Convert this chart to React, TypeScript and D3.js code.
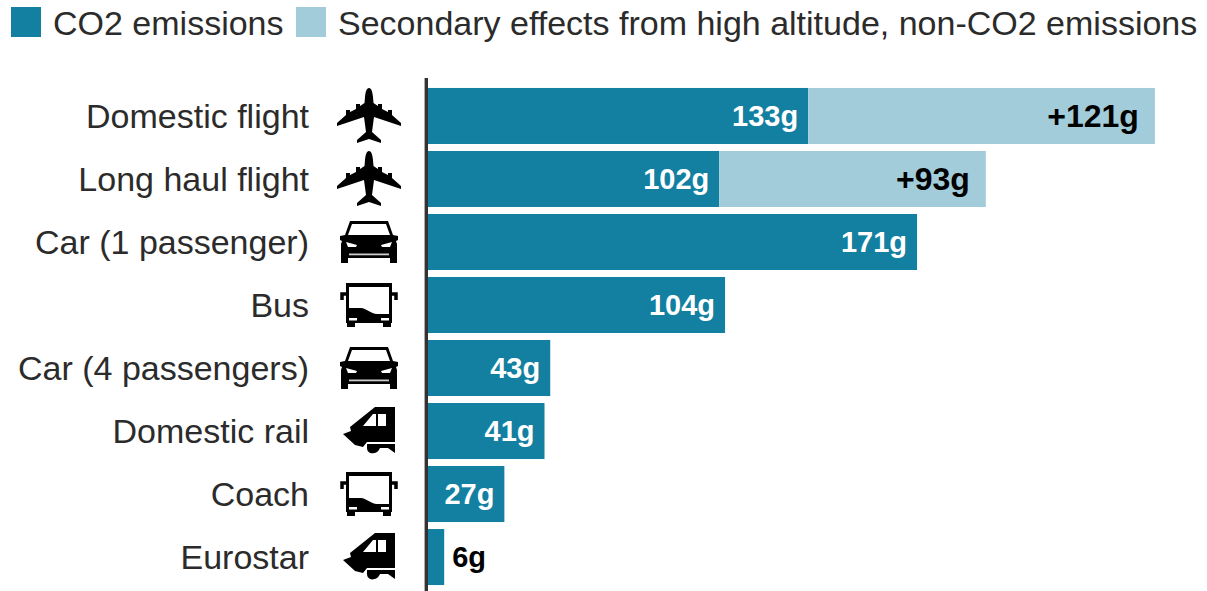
import React from "react";
import * as d3 from "d3";

const categories = ["Domestic flight", "Long haul flight", "Car (1 passenger)", "Bus", "Car (4 passengers)", "Domestic rail", "Coach", "Eurostar"];
const co2Values = [133, 102, 171, 104, 43, 41, 27, 6];
const secondaryValues = [121, 93, 0, 0, 0, 0, 0, 0];
const icons = ["plane", "plane", "car", "bus", "car", "train", "coach", "train"];
const legendLabels = ["CO2 emissions", "Secondary effects from high altitude, non-CO2 emissions"];

const WIDTH = 1207;
const HEIGHT = 591;
const DARK = "#1380a1";
const LIGHT = "#a2ccda";
const TEXT = "#2b2b2b";
const FONT = "'Liberation Sans', Arial, sans-serif";

const x = d3.scaleLinear().domain([0, 254]).range([427, 1154.9]);
const y = d3.scaleBand<string>().domain(categories).range([84.5, 588.5]).paddingInner(0.111).paddingOuter(0.055);

// icons are drawn in a box centred on 0,0
function Plane() {
  return (
    <path
      fill="#000"
      d="M0,-28 C2.5,-28 3.5,-24 4,-19 L4.5,-13 L9,-10 L9,-12 L13,-12 L13,-7 L19,-4 L19,-6 L23,-6 L23,-1 L32,7 L32,10 L5,1 L3,16 L12,24 L12,27 L0,23 L-12,27 L-12,24 L-3,16 L-5,1 L-32,10 L-32,7 L-23,-1 L-23,-6 L-19,-6 L-19,-4 L-13,-7 L-13,-12 L-9,-12 L-9,-10 L-4.5,-13 L-4,-19 C-3.5,-24 -2.5,-28 0,-28 Z"
    />
  );
}

function Car() {
  return (
    <g>
      <path
        fill="#000"
        fillRule="evenodd"
        d="M-19,-21 L19,-21 L24,-7 L29,-6 L29,-2 L27,-1 L28,2 L28,21 L21,21 L21,16 L-21,16 L-21,21 L-28,21 L-28,2 L-27,-1 L-29,-2 L-29,-6 L-24,-7 Z M-17,-18 L-21,-7 L21,-7 L17,-18 Z"
      />
      <path fill="#fff" d="M-23,0 L-12,3 L-13,5 L-21,5 Z M23,0 L12,3 L13,5 L21,5 Z" />
      <rect x={-20} y={11.5} width={40} height={1.8} fill="#ccc" />
    </g>
  );
}

function Bus({ top, bottom }: { top: number; bottom: number }) {
  return (
    <g>
      <path
        fill="#000"
        fillRule="evenodd"
        d={`M-23,${top} L23,${top} L23,18 L22,18 L22,22 L14,22 L14,18 L-14,18 L-14,22 L-22,22 L-22,18 L-23,18 Z M-20,${top + 4} L-20,${bottom} L-8,${bottom} C-3,${bottom} 2,${bottom + 6} 8,${bottom + 6} L20,${bottom + 6} L20,${top + 4} Z`}
      />
      <path fill="none" stroke="#000" strokeWidth={3.5} d="M-23,-11 L-27,-11 L-27,-5 M23,-11 L27,-11 L27,-5" />
      <rect x={-20} y={13} width={8} height={2.5} fill="#fff" />
      <rect x={12} y={13} width={8} height={2.5} fill="#fff" />
    </g>
  );
}

function Train() {
  return (
    <g fill="#000">
      <path
        fillRule="evenodd"
        d="M6,-24 L26,-24 L26,11 L-2,11 L-6,16 L-14,14 L-26,3 L-18,0 L-19,-4 Z M4,-17 L-6,-5 L7,-5 L7,-17 Z M9,-17 L9,-5 L17,-5 L17,-17 Z"
      />
      <path d="M-2,13 L26,13 L26,22 L19,17 L11,17 C9,22 4,23 1,22 C-1,21 -2,19 -2,17 Z" />
    </g>
  );
}

function Icon({ kind }: { kind: string }) {
  if (kind === "plane") return <Plane />;
  if (kind === "car") return <Car />;
  if (kind === "bus") return <Bus top={-22} bottom={3} />;
  if (kind === "coach") return <Bus top={-22} bottom={4} />;
  return <Train />;
}

export default function App() {
  const barH = y.bandwidth();
  return (
    <svg
      width={WIDTH}
      height={HEIGHT}
      viewBox={`0 0 ${WIDTH} ${HEIGHT}`}
      style={{ position: "absolute", left: 0, top: 0, fontFamily: FONT }}
    >
      <rect width={WIDTH} height={HEIGHT} fill="#fff" />

      {/* legend */}
      <rect x={11} y={7} width={30} height={30} fill={DARK} />
      <text x={53} y={35} fontSize={34} fill={TEXT}>{legendLabels[0]}</text>
      <rect x={296} y={7} width={30} height={30} fill={LIGHT} />
      <text x={338} y={35} fontSize={34} fill={TEXT}>{legendLabels[1]}</text>

      {categories.map((c, i) => {
        const top = y(c) as number;
        const mid = top + barH / 2;
        const end = x(co2Values[i]);
        const hasSecondary = secondaryValues[i] > 0;
        const inside = co2Values[i] > 10;
        return (
          <g key={c}>
            <text x={309} y={mid + 12} textAnchor="end" fontSize={34} fill={TEXT}>{c}</text>
            <g transform={`translate(369,${mid})`}>
              <Icon kind={icons[i]} />
            </g>
            <rect x={x(0)} y={top} width={end - x(0)} height={barH} fill={DARK} />
            {hasSecondary && (
              <rect x={end} y={top} width={x(co2Values[i] + secondaryValues[i]) - end} height={barH} fill={LIGHT} />
            )}
            <text
              x={inside ? end - 10 : end + 8}
              y={mid + 10}
              textAnchor={inside ? "end" : "start"}
              fontSize={29}
              fontWeight="bold"
              fill={inside ? "#fff" : "#000"}
            >
              {co2Values[i]}g
            </text>
            {hasSecondary && (
              <text
                x={x(co2Values[i] + secondaryValues[i]) - 16}
                y={mid + 11}
                textAnchor="end"
                fontSize={32}
                fontWeight="bold"
                fill="#000"
              >
                +{secondaryValues[i]}g
              </text>
            )}
          </g>
        );
      })}

      {/* baseline */}
      <line x1={426.3} x2={426.3} y1={78} y2={591} stroke="#333" strokeWidth={3.4} />
    </svg>
  );
}
